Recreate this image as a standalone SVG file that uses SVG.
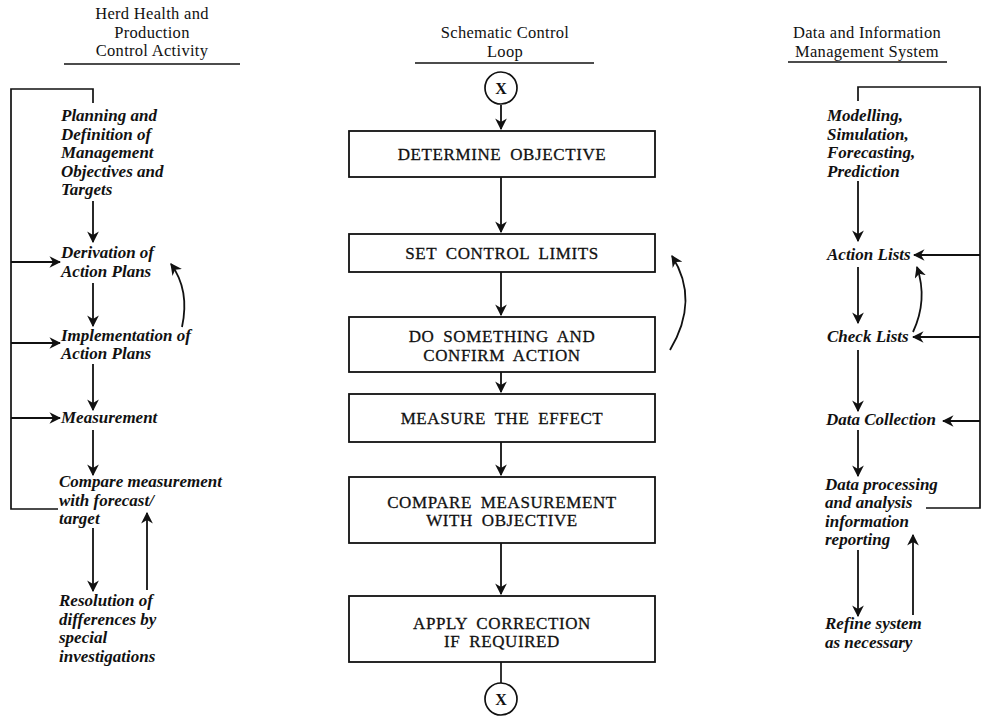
<svg xmlns="http://www.w3.org/2000/svg" width="981" height="716" viewBox="0 0 981 716">
<defs>
<style>
.hd{font-family:"Liberation Serif",serif;font-size:16.5px;fill:#111;text-anchor:middle;letter-spacing:0.3px}
.it{font-family:"Liberation Serif",serif;font-size:17px;font-style:italic;font-weight:bold;fill:#111}
.bx{font-family:"Liberation Serif",serif;font-size:17px;fill:#111;stroke:#111;stroke-width:0.3;text-anchor:middle;letter-spacing:0.6px;word-spacing:4px}
.xm{font-family:"Liberation Serif",serif;font-size:16px;font-weight:bold;fill:#111;text-anchor:middle}
.ln{fill:none;stroke:#111;stroke-width:1.7}
.ar{fill:none;stroke:#111;stroke-width:1.8;marker-end:url(#ah)}
.box{fill:#fff;stroke:#111;stroke-width:1.8}
</style>
<marker id="ah" viewBox="0 0 10 10" refX="9" refY="5" markerWidth="6.5" markerHeight="6.5" orient="auto" markerUnits="strokeWidth">
<path d="M0,0 L10,5 L0,10 L3,5 Z" fill="#111"/>
</marker>
</defs>
<rect width="981" height="716" fill="#fff"/>

<!-- headers -->
<g id="header-left">
<text class="hd" x="152" y="19">Herd Health and</text>
<text class="hd" x="152" y="37.5">Production</text>
<text class="hd" x="152" y="56">Control Activity</text>
<line class="ln" x1="64" y1="64" x2="240" y2="64"/>
</g>
<g id="header-center">
<text class="hd" x="505" y="38">Schematic Control</text>
<text class="hd" x="505" y="57">Loop</text>
<line class="ln" x1="415" y1="63" x2="594" y2="63"/>
</g>
<g id="header-right">
<text class="hd" x="867" y="38">Data and Information</text>
<text class="hd" x="867" y="57">Management System</text>
<line class="ln" x1="788" y1="62" x2="947" y2="62"/>
</g>

<!-- left column nodes -->
<g id="planning"><text class="it" x="61" y="121">Planning and</text><text class="it" x="61" y="139.5">Definition of</text><text class="it" x="61" y="158">Management</text><text class="it" x="61" y="176.5">Objectives and</text><text class="it" x="61" y="195">Targets</text></g>
<g id="derivation"><text class="it" x="61" y="258">Derivation of</text><text class="it" x="61" y="277">Action Plans</text></g>
<g id="implementation"><text class="it" x="61" y="341">Implementation of</text><text class="it" x="61" y="359">Action Plans</text></g>
<g id="measurement"><text class="it" x="61" y="423">Measurement</text></g>
<g id="compare-forecast"><text class="it" x="59" y="487">Compare measurement</text><text class="it" x="59" y="506">with forecast/</text><text class="it" x="59" y="524">target</text></g>
<g id="resolution"><text class="it" x="59" y="606">Resolution of</text><text class="it" x="59" y="625">differences by</text><text class="it" x="59" y="643">special</text><text class="it" x="59" y="662">investigations</text></g>

<!-- center column nodes -->
<g id="x-top"><circle class="ln" cx="501" cy="88" r="16"/><text class="xm" x="501" y="94">X</text></g>
<g id="determine"><rect class="box" x="349" y="131" width="306" height="46"/><text class="bx" x="502" y="160">DETERMINE OBJECTIVE</text></g>
<g id="set-limits"><rect class="box" x="349" y="234" width="306" height="38"/><text class="bx" x="502" y="259">SET CONTROL LIMITS</text></g>
<g id="do-something"><rect class="box" x="349" y="317" width="306" height="55"/><text class="bx" x="502" y="342">DO SOMETHING AND</text><text class="bx" x="502" y="361">CONFIRM ACTION</text></g>
<g id="measure-effect"><rect class="box" x="349" y="394" width="306" height="48"/><text class="bx" x="502" y="424">MEASURE THE EFFECT</text></g>
<g id="compare-objective"><rect class="box" x="349" y="477" width="306" height="66"/><text class="bx" x="502" y="508">COMPARE MEASUREMENT</text><text class="bx" x="502" y="526">WITH OBJECTIVE</text></g>
<g id="apply-correction"><rect class="box" x="349" y="596" width="306" height="66"/><text class="bx" x="502" y="629">APPLY CORRECTION</text><text class="bx" x="502" y="647">IF REQUIRED</text></g>
<g id="x-bottom"><circle class="ln" cx="501" cy="699" r="16"/><text class="xm" x="501" y="705">X</text></g>

<!-- right column nodes -->
<g id="modelling"><text class="it" x="827" y="121">Modelling,</text><text class="it" x="827" y="140">Simulation,</text><text class="it" x="827" y="158">Forecasting,</text><text class="it" x="827" y="177">Prediction</text></g>
<g id="action-lists"><text class="it" x="827" y="260">Action Lists</text></g>
<g id="check-lists"><text class="it" x="827" y="342">Check Lists</text></g>
<g id="data-collection"><text class="it" x="826" y="425">Data Collection</text></g>
<g id="data-processing"><text class="it" x="825" y="490">Data processing</text><text class="it" x="825" y="508">and analysis</text><text class="it" x="825" y="527">information</text><text class="it" x="825" y="545">reporting</text></g>
<g id="refine"><text class="it" x="825" y="629">Refine system</text><text class="it" x="825" y="648">as necessary</text></g>

<g id="connectors">
<!-- left -->
<polyline class="ln" points="93,103 93,89 11,89 11,509 58,509"/>
<line class="ar" x1="93" y1="201" x2="93" y2="242"/>
<line class="ar" x1="11" y1="262" x2="60" y2="262"/>
<line class="ar" x1="11" y1="343" x2="60" y2="343"/>
<line class="ar" x1="11" y1="418" x2="60" y2="418"/>
<line class="ar" x1="93" y1="283" x2="93" y2="326"/>
<line class="ar" x1="93" y1="364" x2="93" y2="410"/>
<line class="ar" x1="93" y1="430" x2="93" y2="475"/>
<line class="ar" x1="93" y1="528" x2="93" y2="591"/>
<line class="ar" x1="147" y1="590" x2="147" y2="513"/>
<path class="ar" d="M182,327 Q190,290 171,264"/>
<!-- center -->
<line class="ar" x1="501" y1="105" x2="501" y2="129"/>
<line class="ar" x1="501" y1="177" x2="501" y2="232"/>
<line class="ar" x1="501" y1="272" x2="501" y2="315"/>
<line class="ar" x1="501" y1="372" x2="501" y2="392"/>
<line class="ar" x1="501" y1="442" x2="501" y2="475"/>
<line class="ar" x1="501" y1="543" x2="501" y2="594"/>
<line class="ln" x1="501" y1="662" x2="501" y2="683"/>
<path class="ar" d="M670,350 Q700,300 672,256"/>
<!-- right -->
<polyline class="ln" points="858,101 858,87 980,87 980,508 926,508"/>
<line class="ar" x1="858" y1="181" x2="858" y2="241"/>
<line class="ar" x1="980" y1="255" x2="914" y2="255"/>
<line class="ar" x1="980" y1="337" x2="913" y2="337"/>
<line class="ar" x1="980" y1="421" x2="943" y2="421"/>
<line class="ar" x1="858" y1="267" x2="858" y2="323"/>
<line class="ar" x1="858" y1="350" x2="858" y2="411"/>
<line class="ar" x1="858" y1="430" x2="858" y2="476"/>
<line class="ar" x1="858" y1="550" x2="858" y2="616"/>
<line class="ar" x1="913" y1="615" x2="913" y2="535"/>
<path class="ar" d="M913,332 Q928,300 917,267"/>
</g>
</svg>
